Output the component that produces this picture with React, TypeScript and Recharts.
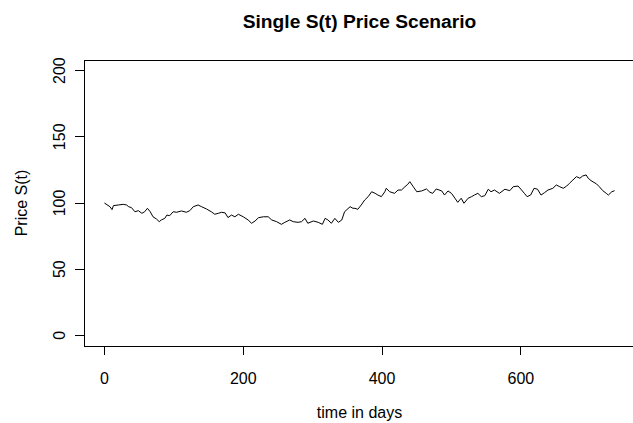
import { LineChart, Line, XAxis, YAxis, ReferenceLine } from "recharts";

// days (not evenly spaced, follows the visible wiggles)
const days = [
  0, 8, 11, 13, 20, 27, 32, 35, 39, 44, 49, 54, 58, 62, 66, 70, 75, 79, 82, 87,
  90, 94, 99, 104, 111, 118, 123, 128, 135, 140, 147, 154, 159, 164, 169, 174, 178, 183, 188, 193,
  200, 207, 212, 217, 222, 229, 236, 241, 248, 255, 260, 267, 272, 279, 284, 289, 293, 301, 308, 314,
  318, 322, 327, 332, 337, 342, 346, 354, 358, 361, 365, 370, 375, 380, 385, 390, 394, 399, 404, 406,
  411, 418, 423, 428, 433, 437, 440, 445, 450, 457, 464, 469, 473, 478, 486, 490, 495, 500, 505, 509,
  514, 518, 524, 529, 533, 538, 543, 548, 553, 557, 562, 569, 577, 584, 589, 596, 601, 605, 609, 614,
  619, 624, 629, 634, 639, 646, 651, 656, 661, 666, 670, 675, 680, 685, 689, 694, 697, 701, 709, 713,
  718, 723, 726, 731, 735,
];

const prices = [
  100, 97.2, 95, 98, 98.5, 99, 98.5, 97.2, 96.5, 93.4, 94.2, 92.2, 93.4, 96, 93.4, 89.6, 87.9, 85.9, 87.2, 88.4,
  90.9, 90.4, 93.4, 93, 94, 93, 94.2, 97.2, 98.5, 97.2, 95.5, 93.4, 91.5, 92.2, 93, 92.5, 89, 90.9, 89.6, 91.5,
  89.6, 87.2, 84.7, 86.4, 88.9, 89.6, 89.6, 87.2, 85.9, 83.9, 85.4, 87.2, 85.9, 85.4, 85.9, 88.4, 84.7, 86.4, 85.4, 83.9,
  88.4, 87.2, 84.7, 88.4, 85.4, 87.2, 93.4, 97.2, 96, 96, 95.2, 98.5, 102.3, 104.8, 108.5, 107.3, 106, 104.8, 108.5, 111.1,
  108.5, 107.3, 109.8, 109.8, 112.3, 114.1, 116.1, 112.3, 108.5, 109.1, 110.6, 108.1, 107.3, 110.6, 109.1, 106, 109.1, 107.3, 103.6, 100.5,
  103.6, 99.8, 103.6, 104.8, 106, 107.3, 104.8, 105.5, 110.4, 108.5, 109.8, 107.3, 110.4, 109.3, 112.3, 112.8, 109.8, 107.3, 104.8, 106,
  111.1, 110.4, 106, 107.8, 109.8, 111.1, 113.6, 112.3, 111.1, 112.8, 114.9, 117.4, 119.9, 118.7, 120.4, 121.2, 118.7, 116.9, 114.4, 112.3,
  109.3, 107.3, 106, 108.5, 109.3,
];

const xTicks = [0, 200, 400, 600];
const yTicks = [0, 50, 100, 150, 200];

const data = days.map((d, i) => ({ day: d, price: prices[i] }));

const FONT = '"Liberation Sans", Arial, sans-serif';

function XTick(props: any) {
  const { x, y, payload } = props;
  return (
    <text x={x} y={y + 29.4} textAnchor="middle" fontFamily={FONT} fontSize={16} fill="#000">
      {payload.value}
    </text>
  );
}

function YTick(props: any) {
  const { x, y, payload } = props;
  const bx = x - 10;
  return (
    <text
      x={bx}
      y={y}
      transform={`rotate(-90, ${bx}, ${y})`}
      textAnchor="middle"
      fontFamily={FONT}
      fontSize={16}
      fill="#000"
    >
      {payload.value}
    </text>
  );
}

export default function App() {
  const line = { stroke: "#000", strokeWidth: 1, shapeRendering: "crispEdges" };
  return (
    <div
      style={{
        position: "absolute",
        left: 0,
        top: 0,
        width: 633,
        height: 423,
        overflow: "hidden",
        background: "#fff",
      }}
    >
      <LineChart width={640} height={423} data={data} margin={{ top: 60, right: 5, bottom: 0, left: 0 }}>
        <XAxis
          dataKey="day"
          type="number"
          domain={[-29.4, 764.4]}
          ticks={xTicks}
          height={77}
          tickSize={9}
          tickMargin={0}
          axisLine={line}
          tickLine={line}
          tick={<XTick />}
          allowDataOverflow
        />
        <YAxis
          type="number"
          domain={[-8, 208]}
          ticks={yTicks}
          width={84}
          tickSize={9}
          tickMargin={0}
          axisLine={line}
          tickLine={line}
          tick={<YTick />}
          allowDataOverflow
        />
        <ReferenceLine y={208} stroke="#000" strokeWidth={1} shapeRendering="crispEdges" />
        <Line
          dataKey="price"
          type="linear"
          stroke="#000"
          strokeWidth={1}
          dot={false}
          isAnimationActive={false}
        />
      </LineChart>
      <svg
        width={633}
        height={423}
        style={{ position: "absolute", left: 0, top: 0, pointerEvents: "none" }}
      >
        <text x={359.5} y={28} textAnchor="middle" fontFamily={FONT} fontSize={19.2} fontWeight="bold" fill="#000">
          Single S(t) Price Scenario
        </text>
        <text x={359.5} y={418} textAnchor="middle" fontFamily={FONT} fontSize={16} fill="#000">
          time in days
        </text>
        <text
          x={26.7}
          y={203}
          transform="rotate(-90, 26.7, 203)"
          textAnchor="middle"
          fontFamily={FONT}
          fontSize={16}
          fill="#000"
        >
          Price S(t)
        </text>
      </svg>
    </div>
  );
}
